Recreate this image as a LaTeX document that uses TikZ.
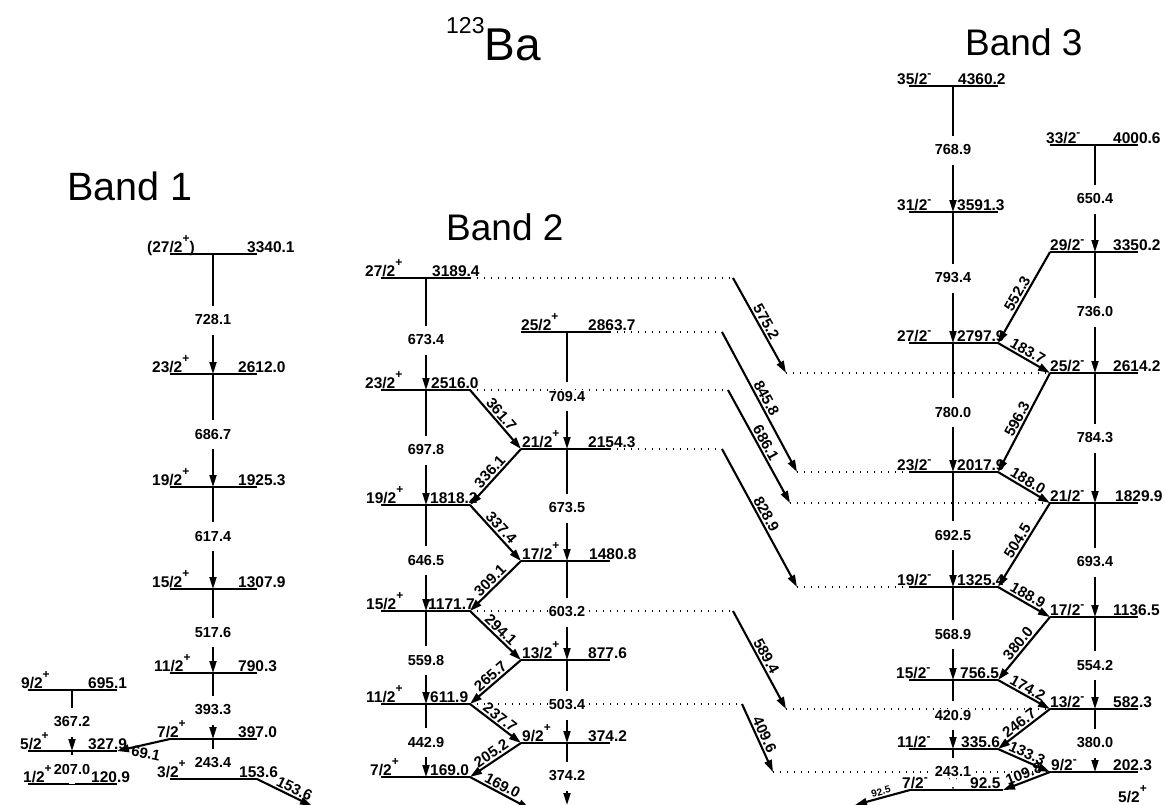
\documentclass[tikz,border=0pt]{standalone}
\usepackage{fontspec}
\setmainfont{Liberation Sans}
\usetikzlibrary{arrows.meta,calc}
\newcommand\supp{\raisebox{10pt}{\fontsize{12}{12}\selectfont +}}
\newcommand\supm{\raisebox{7pt}{\fontsize{12}{12}\selectfont -}}
\newcommand\colx{0}
\newcommand\lev[8]{%
  \coordinate (#1l) at (#2,#4);
  \coordinate (#1r) at (#3,#4);
  \coordinate (#1c) at (\colx,#4);
  \draw[levelline] (#1l) -- (#1r);
  \node[lab,anchor=base west] (#1s) at (#6,#4-2) {#5};
  \node[lab,anchor=base west] (#1e) at (#8,#4-2) {#7};}
\newcommand\vt[5]{%
  \draw[trans] (#1c) -- (#2c);
  \coordinate (#5p) at (#1c |- 0,#3);
  \fill[white] ($(#5p)+(-3,-14.5)$) rectangle ($(#5p)+(3,14.5)$);
  \node[tlab] (#5) at (#5p) {#4};}
\tikzset{
  levelline/.style={line width=1.3pt},
  trans/.style={line width=1.9pt, -{Triangle[length=12pt,width=7pt]}},
  ctrans/.style={line width=2.1pt, -{Triangle[length=12pt,width=7.5pt]}},
  dots/.style={line width=1.2pt, dash pattern=on 1.2pt off 5.8pt},
  lab/.style={font=\fontsize{15.5}{16}\selectfont\bfseries, inner sep=0pt},
  tlab/.style={font=\fontsize{14.5}{15}\selectfont\bfseries, fill=white, inner xsep=1pt, inner ysep=1pt},
  clab/.style={font=\fontsize{15}{15}\selectfont\bfseries, sloped, inner sep=1.5pt},
  title/.style={font=\fontsize{37}{37}\selectfont, anchor=base west, inner sep=0pt},
}
\begin{document}
\begin{tikzpicture}[x=1pt,y=-1pt]
\useasboundingbox (0,0) rectangle (1165,804);
\clip (0,0) rectangle (1165,804);
\fill[white] (0,0) rectangle (1165,804);

% titles
\node[title] (ttl) at (446,60) {\raisebox{27pt}{\fontsize{23}{23}\selectfont 123}\fontsize{46}{46}\selectfont Ba};
\node[title,font=\fontsize{39.5}{40}\selectfont] (band1) at (67,200) {Band 1};
\node[title] (band2) at (446,240) {Band 2};
\node[title] (band3) at (965,55) {Band 3};

% Band 1 main
\renewcommand\colx{213}
\lev{a27}{170}{257}{254}{(27/2\supp)}{147}{3340.1}{247}
\lev{a23}{170}{257}{374}{23/2\supp}{152}{2612.0}{238}
\lev{a19}{170}{257}{487}{19/2\supp}{152}{1925.3}{238}
\lev{a15}{170}{257}{589}{15/2\supp}{152}{1307.9}{238}
\lev{a11}{170}{257}{673}{11/2\supp}{154}{790.3}{238}
\lev{a7}{170}{257}{739}{7/2\supp}{157}{397.0}{238}
\lev{a3}{170}{257}{779}{3/2\supp}{157}{153.6}{239}
% Band 1 left
\renewcommand\colx{72}
\lev{b9}{28}{117}{690}{9/2\supp}{21}{695.1}{88}
\lev{b5}{28}{117}{751}{5/2\supp}{20}{327.9}{88}
\lev{b1}{28}{117}{784}{1/2\supp}{23}{120.9}{91}
% Band 2 left
\renewcommand\colx{426}
\lev{c27}{381}{470}{278}{27/2\supp}{365}{3189.4}{432}
\lev{c23}{381}{470}{390}{23/2\supp}{365}{2516.0}{431}
\lev{c19}{381}{470}{505}{19/2\supp}{366}{1818.2}{430}
\lev{c15}{381}{470}{611}{15/2\supp}{366}{1171.7}{428}
\lev{c11}{381}{470}{704}{11/2\supp}{366}{611.9}{430}
\lev{c7}{381}{470}{777}{7/2\supp}{370}{169.0}{430}
% Band 2 right
\renewcommand\colx{567}
\lev{d25}{521}{610}{332}{25/2\supp}{521}{2863.7}{588}
\lev{d21}{521}{610}{449}{21/2\supp}{522}{2154.3}{588}
\lev{d17}{521}{610}{561}{17/2\supp}{522}{1480.8}{589}
\lev{d13}{521}{610}{660}{13/2\supp}{522}{877.6}{588}
\lev{d9}{521}{610}{743}{9/2\supp}{522}{374.2}{588}
\coordinate (d0c) at (567,805);
% Band 3 left
\renewcommand\colx{953}
\lev{e35}{909}{998}{86}{35/2\supm}{897}{4360.2}{958}
\lev{e31}{909}{998}{212}{31/2\supm}{897}{3591.3}{957}
\lev{e27}{909}{998}{343}{27/2\supm}{897}{2797.9}{957}
\lev{e23}{909}{998}{472}{23/2\supm}{897}{2017.9}{957}
\lev{e19}{909}{998}{587}{19/2\supm}{897}{1325.4}{957}
\lev{e15}{909}{998}{680}{15/2\supm}{896}{756.5}{960}
\lev{e11}{909}{998}{749}{11/2\supm}{897}{335.6}{961}
\lev{e7}{910}{1003}{790}{7/2\supm}{902}{92.5}{970}
% Band 3 right
\renewcommand\colx{1095}
\lev{f33}{1050}{1138}{145}{33/2\supm}{1046}{4000.6}{1113}
\lev{f29}{1050}{1138}{252}{29/2\supm}{1050}{3350.2}{1113}
\lev{f25}{1050}{1138}{373}{25/2\supm}{1050}{2614.2}{1113}
\lev{f21}{1050}{1138}{503}{21/2\supm}{1050}{1829.9}{1115}
\lev{f17}{1050}{1138}{617}{17/2\supm}{1050}{1136.5}{1113}
\lev{f13}{1050}{1138}{709}{13/2\supm}{1050}{582.3}{1113}
\lev{f9}{1050}{1138}{772}{9/2\supm}{1051}{202.3}{1113}
\node[lab,anchor=base west] (g5) at (1118,802) {5/2\supp};

% dotted extensions
\coordinate (c27d) at (733,278);
\coordinate (d25d) at (722,332);
\coordinate (c23d) at (728,390);
\coordinate (d21d) at (722,449);
\coordinate (c15d) at (733,611);
\coordinate (c11d) at (742,704);
\coordinate (f25d) at (786,373);
\coordinate (e23d) at (797,472);
\coordinate (f21d) at (790,503);
\coordinate (e19d) at (797,587);
\coordinate (f13d) at (786,709);
\coordinate (f9d) at (773,772);
\draw[dots] (c27r) -- (c27d);
\draw[dots] (d25r) -- (d25d);
\draw[dots] (c23r) -- (c23d);
\draw[dots] (d21r) -- (d21d);
\draw[dots] (c15r) -- (c15d);
\draw[dots] (c11r) -- (c11d);
\draw[dots] (f25d) -- (f25l);
\draw[dots] (e23d) -- (e23l);
\draw[dots] (f21d) -- (f21l);
\draw[dots] (e19d) -- (e19l);
\draw[dots] (f13d) -- (f13l);
\draw[dots] (f9d) -- (f9l);

% interband transitions
\draw[ctrans] (c27d) -- node[clab,above] (x1) {575.2} (f25d);
\draw[ctrans] (d25d) -- node[clab,above] (x2) {845.8} (e23d);
\draw[ctrans] (c23d) -- node[clab,above] (x3) {686.1} (f21d);
\draw[ctrans] (d21d) -- node[clab,above] (x4) {828.9} (e19d);
\draw[ctrans] (c15d) -- node[clab,above] (x5) {589.4} (f13d);
\draw[ctrans] (c11d) -- node[clab,above] (x6) {409.6} (f9d);

% cross transitions band 1
\coordinate (a3x) at (312,806);
\draw[ctrans] (a7l) -- node[font=\fontsize{15}{15}\selectfont\bfseries, inner sep=0pt, pos=0.43, below=3pt, rotate=-12] (y1) {69.1} (b5r);
\draw[ctrans] (a3r) -- node[clab,above,pos=0.62] (y2) {153.6} (a3x);
% cross transitions band 2
\coordinate (c7x) at (530,809);
\draw[ctrans] (c23r) -- node[clab,above] (z1) {361.7} (d21l);
\draw[ctrans] (d21l) -- node[clab,above] (z2) {336.1} (c19r);
\draw[ctrans] (c19r) -- node[clab,above] (z3) {337.4} (d17l);
\draw[ctrans] (d17l) -- node[clab,above] (z4) {309.1} (c15r);
\draw[ctrans] (c15r) -- node[clab,above] (z5) {294.1} (d13l);
\draw[ctrans] (d13l) -- node[clab,above] (z6) {265.7} (c11r);
\draw[ctrans] (c11r) -- node[clab,above] (z7) {237.7} (d9l);
\draw[ctrans] (d9l) -- node[clab,above] (z8) {205.2} (c7r);
\draw[ctrans] (c7r) -- node[clab,above,pos=0.48] (z9) {169.0} (c7x);
% cross transitions band 3
\coordinate (e7x) at (855,805);
\draw[ctrans] (f29l) -- node[clab,above] (w1) {552.3} (e27r);
\draw[ctrans] (e27r) -- node[clab,above] (w2) {183.7} (f25l);
\draw[ctrans] (f25l) -- node[clab,above] (w3) {596.3} (e23r);
\draw[ctrans] (e23r) -- node[clab,above] (w4) {188.0} (f21l);
\draw[ctrans] (f21l) -- node[clab,above] (w5) {504.5} (e19r);
\draw[ctrans] (e19r) -- node[clab,above] (w6) {188.9} (f17l);
\draw[ctrans] (f17l) -- node[clab,above] (w7) {380.0} (e15r);
\draw[ctrans] (e15r) -- node[clab,above] (w8) {174.2} (f13l);
\draw[ctrans] (f13l) -- node[clab,above] (w9) {246.7} (e11r);
\draw[ctrans] (e11r) -- node[clab,above] (w10) {133.3} (f9l);
\draw[ctrans] (f9l) -- node[clab,above] (w11) {109.8} (e7r);
\draw[ctrans] (e7l) -- node[clab,above,font=\fontsize{10}{10}\selectfont\bfseries] (w12) {92.5} (e7x);

% vertical transitions
\vt{a27}{a23}{320}{728.1}{v1}
\vt{a23}{a19}{434}{686.7}{v2}
\vt{a19}{a15}{536}{617.4}{v3}
\vt{a15}{a11}{632}{517.6}{v4}
\vt{a11}{a7}{710}{393.3}{v5}
\vt{a7}{a3}{763}{243.4}{v6}
\vt{b9}{b5}{722}{367.2}{v7}
\vt{b5}{b1}{769}{207.0}{v8}
\vt{c27}{c23}{340}{673.4}{v9}
\vt{c23}{c19}{450}{697.8}{v10}
\vt{c19}{c15}{560}{646.5}{v11}
\vt{c15}{c11}{660}{559.8}{v12}
\vt{c11}{c7}{742}{442.9}{v13}
\vt{d25}{d21}{396}{709.4}{v14}
\vt{d21}{d17}{508}{673.5}{v15}
\vt{d17}{d13}{612}{603.2}{v16}
\vt{d13}{d9}{705}{503.4}{v17}
\vt{d9}{d0}{776}{374.2}{v18}
\vt{e35}{e31}{150}{768.9}{v19}
\vt{e31}{e27}{278}{793.4}{v20}
\vt{e27}{e23}{412}{780.0}{v21}
\vt{e23}{e19}{535}{692.5}{v22}
\vt{e19}{e15}{634}{568.9}{v23}
\vt{e15}{e11}{715}{420.9}{v24}
\vt{e11}{e7}{772}{243.1}{v25}
\vt{f33}{f29}{199}{650.4}{v26}
\vt{f29}{f25}{312}{736.0}{v27}
\vt{f25}{f21}{438}{784.3}{v28}
\vt{f21}{f17}{562}{693.4}{v29}
\vt{f17}{f13}{665}{554.2}{v30}
\vt{f13}{f9}{743}{380.0}{v31}
\end{tikzpicture}
\end{document}
